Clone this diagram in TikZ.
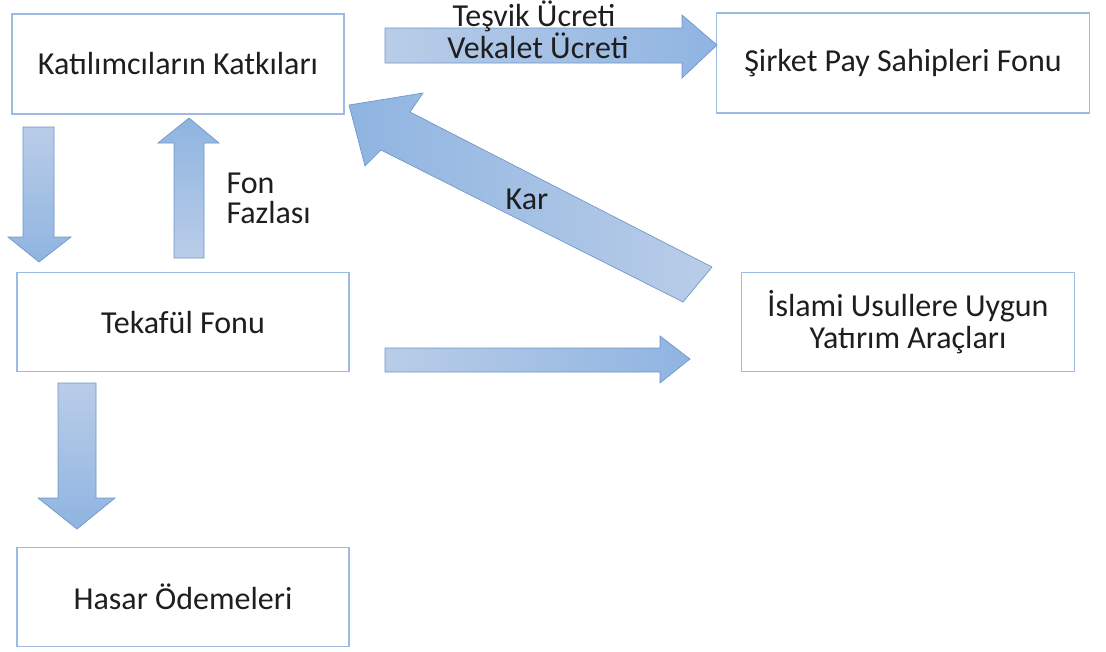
\documentclass[tikz,border=0pt]{standalone}
\usepackage{fontspec}
\setmainfont{Carlito}
\definecolor{kutucizgi}{RGB}{155,187,226}
\definecolor{okacik}{RGB}{185,205,232}
\definecolor{okkoyu}{RGB}{143,180,225}
\definecolor{okcizgi}{RGB}{112,150,198}
\definecolor{yazi}{RGB}{30,30,30}
\tikzset{every picture/.style={line width=0.75pt}}
\tikzset{
  kutu/.style={draw=kutucizgi, line width=1.1pt, fill=white, inner sep=0pt, align=center, text=yazi, font=\fontsize{24}{24}\selectfont},
  etiket/.style={inner sep=0.75pt, text=yazi, font=\fontsize{24}{22.5}\selectfont},
  blokok/.style={draw=okcizgi, line width=0.5pt, line join=miter}
}

\begin{document}
\begin{tikzpicture}[x=0.75pt,y=0.75pt,yscale=-1,xscale=1]
      \useasboundingbox (0,0) rectangle (1106,651);

      %Shape: Rectangle [id:katki]
      \node [kutu, minimum width=249pt, minimum height=75pt] (katki) at (178,64) {Katılımcıların Katkıları};
      %Shape: Rectangle [id:tekaful]
      \node [kutu, minimum width=249pt, minimum height=74pt] (tekaful) at (183,322) {Tekafül Fonu};
      %Shape: Rectangle [id:hasar]
      \node [kutu, minimum width=249pt, minimum height=74pt] (hasar) at (183,597) {Hasar Ödemeleri};
      %Shape: Rectangle [id:sirket]
      \node [kutu, minimum width=280pt, minimum height=75pt] (sirket) at (903,63) {Şirket Pay Sahipleri Fonu};
      %Shape: Rectangle [id:islami]
      \node [kutu, minimum width=250pt, minimum height=74pt] (islami) at (908,322) {İslami Usullere Uygun\\Yatırım Araçları};

      %Block Arrow Down [id:katki-tekaful]
      \draw [blokok, top color=okacik, bottom color=okkoyu] (23,127) -- (54,127) -- (54,237) -- (71,237) -- (39,262) -- (8,237) -- (23,237) -- cycle ;
      %Block Arrow Up [id:fonfazlasi]
      \draw [blokok, top color=okkoyu, bottom color=okacik] (174,258) -- (204,258) -- (204,143) -- (219,143) -- (189,118) -- (158,143) -- (174,143) -- cycle ;
      %Block Arrow Down [id:tekaful-hasar]
      \draw [blokok, top color=okacik, bottom color=okkoyu] (58,383) -- (96,383) -- (96,498) -- (115,498) -- (77,529) -- (38,498) -- (58,498) -- cycle ;
      %Block Arrow Right [id:ucret]
      \draw [blokok, left color=okacik, right color=okkoyu] (385,28) -- (682,28) -- (682,15) -- (717,45) -- (682,78) -- (682,63) -- (385,63) -- cycle ;
      %Block Arrow Right [id:yatirim]
      \draw [blokok, left color=okacik, right color=okkoyu] (385,348) -- (660,348) -- (660,336) -- (690,359) -- (660,383) -- (660,372) -- (385,372) -- cycle ;
      %Block Arrow Diagonal [id:kar]
      \draw [blokok, left color=okkoyu, right color=okacik] (712,267) -- (410,112) -- (423,93) -- (349,105) -- (365,166) -- (381,150) -- (683,302) -- cycle ;

      % Text Node
      \node [etiket] (tesvik) at (534,16) {Teşvik Ücreti};
      % Text Node
      \node [etiket] (vekalet) at (538,46) {Vekalet Ücreti};
      % Text Node
      \node [etiket, anchor=west, align=left] (fon) at (225,198) {Fon\\Fazlası};
      % Text Node
      \node [etiket] (kar) at (527,199) {Kar};
    \end{tikzpicture}
\end{document}
